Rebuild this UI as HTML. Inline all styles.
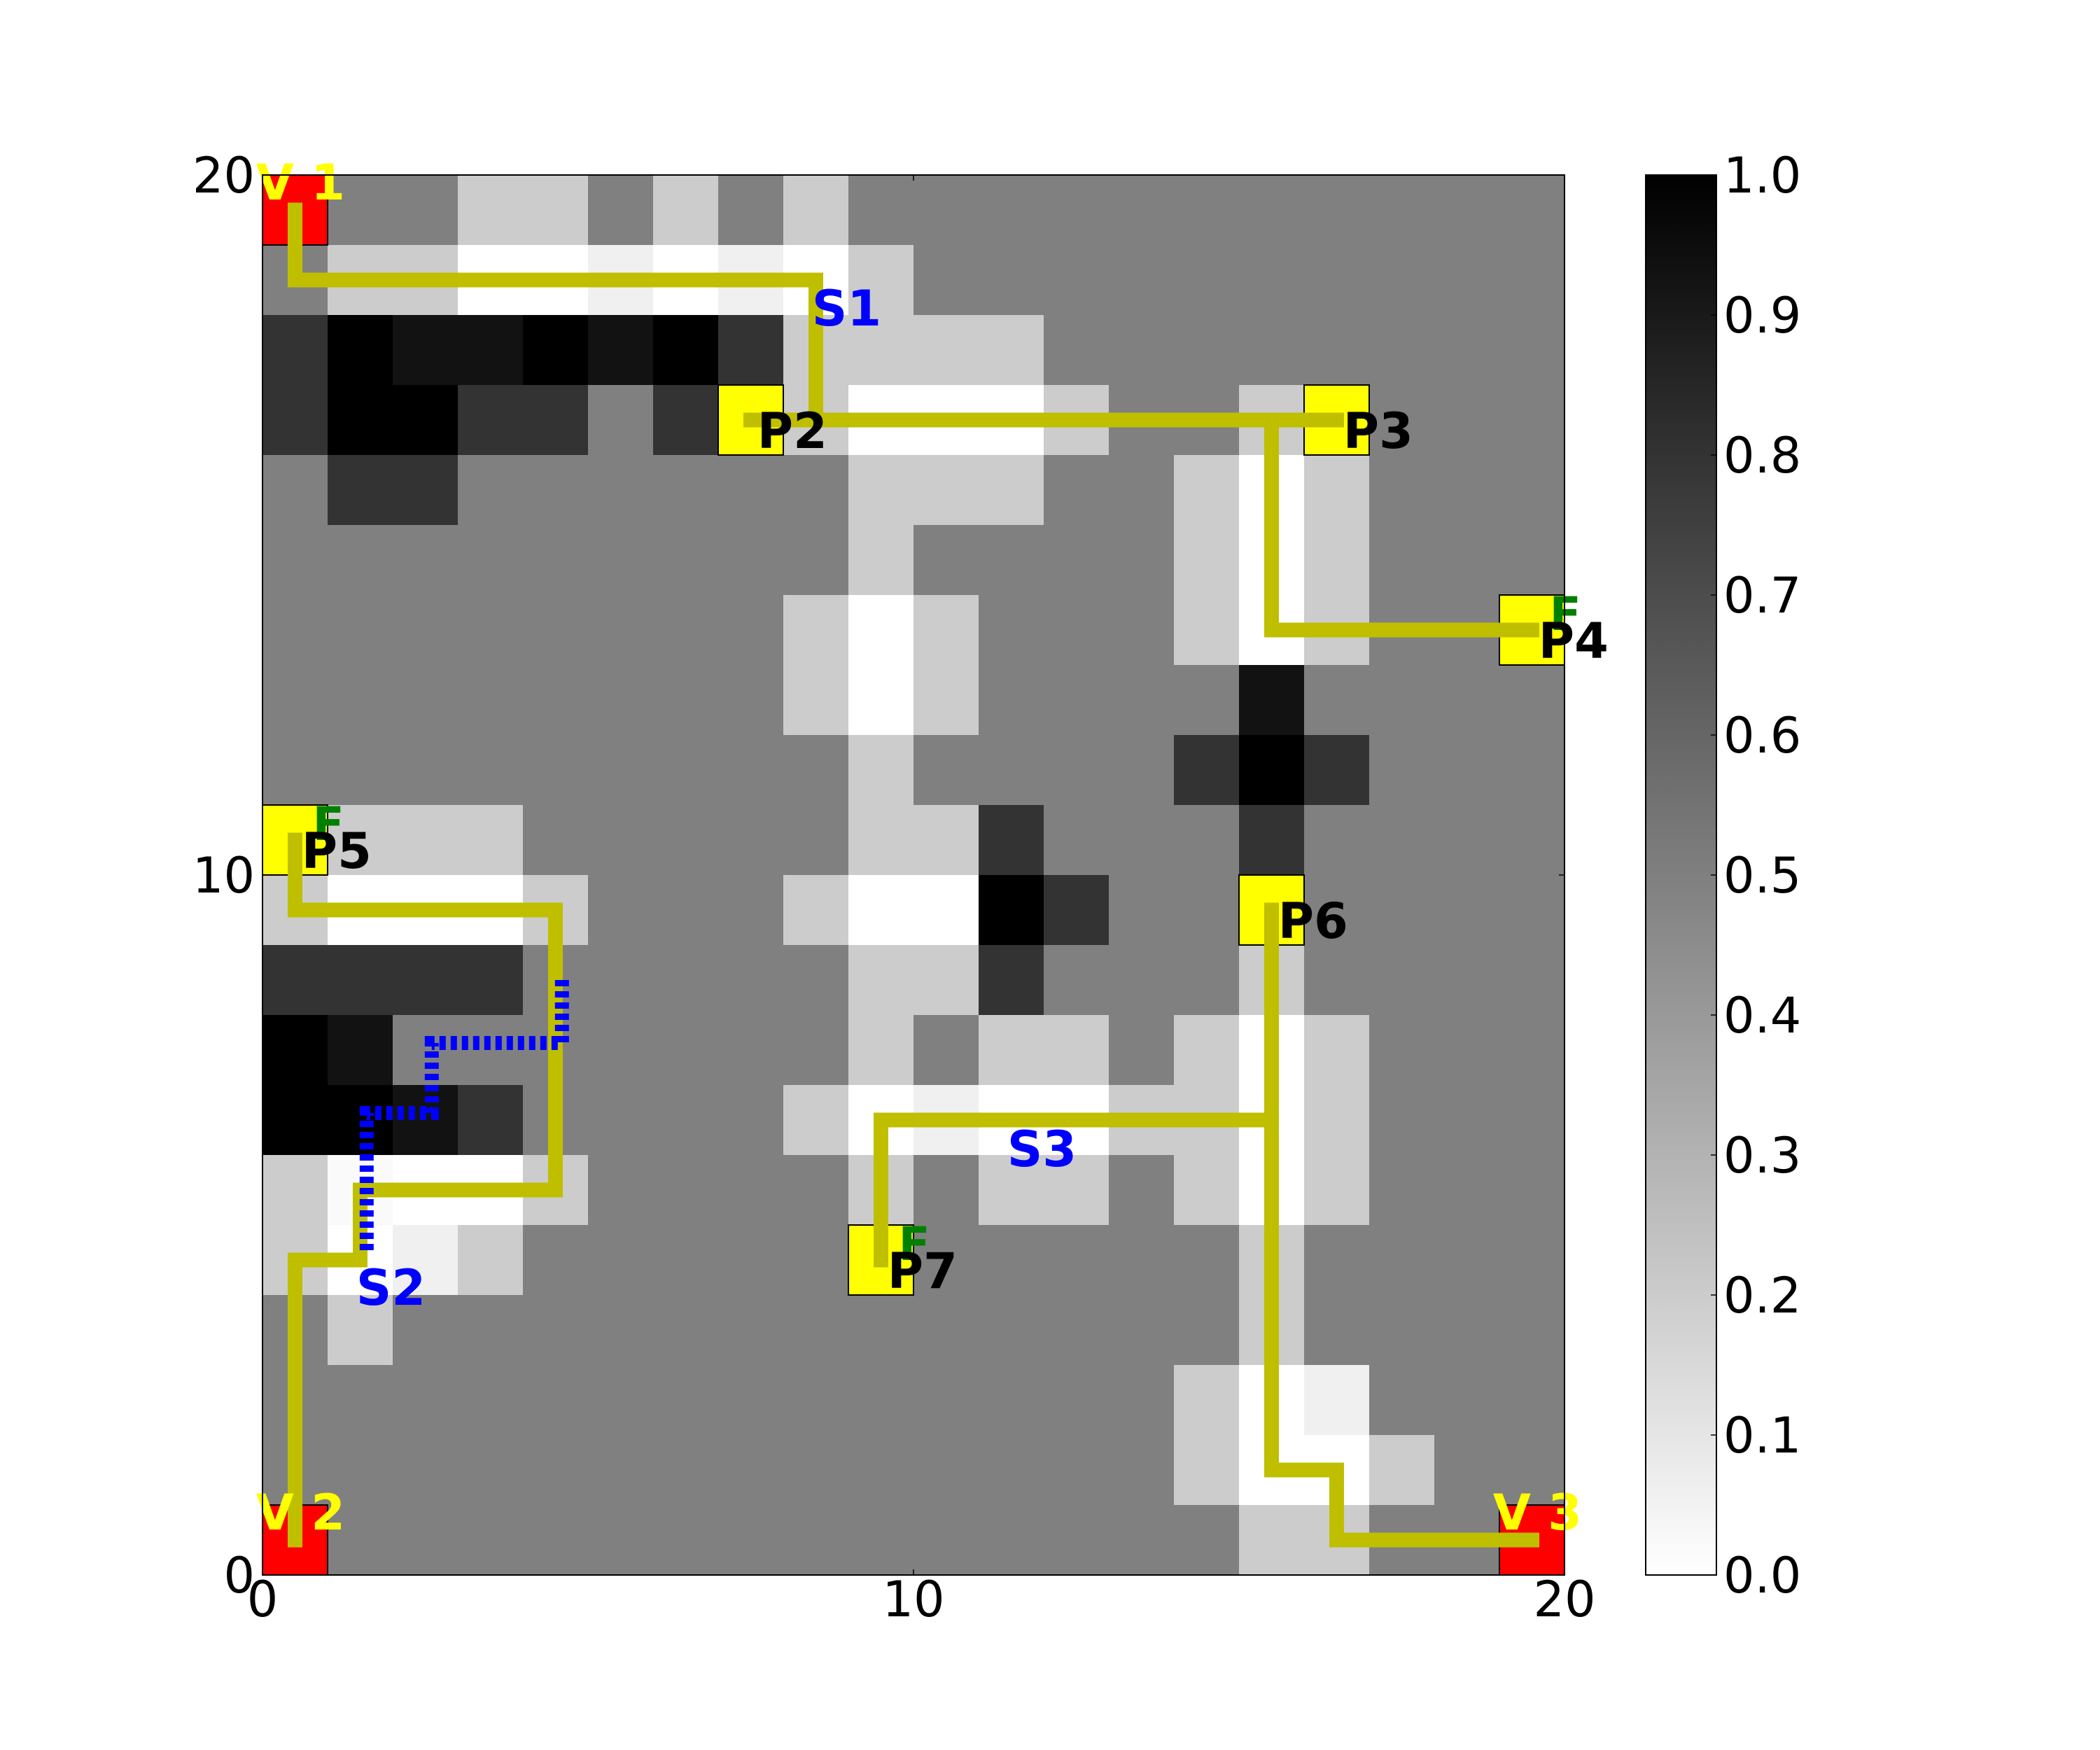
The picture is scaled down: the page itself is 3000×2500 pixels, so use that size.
<!DOCTYPE html>
<html><head><meta charset="utf-8"><style>
html,body{margin:0;padding:0;background:#fff;}
svg{display:block;font-family:"DejaVu Sans","Liberation Sans",sans-serif;}
</style></head><body>
<svg id="chart" width="3000" height="2500" viewBox="0 0 3000 2500" xmlns="http://www.w3.org/2000/svg">
<rect width="3000" height="2500" fill="#fff"/>
<g id="cells"></g>
<g id="paths"></g>
<g id="labels"></g>
<g id="axes"></g>
<g id="cbar"></g>
</svg>
<script>
// grid values, rows from top (y=19) to bottom (y=0); -1 = red vehicle cell, -2 = yellow point cell
const row0=[-1,.5,.5,.2,.2,.5,.2,.5,.2,.5,.5,.5,.5,.5,.5,.5,.5,.5,.5,.5];
const row1=[.5,.2,.2,0,0,.06,0,.06,0,.2,.5,.5,.5,.5,.5,.5,.5,.5,.5,.5];
const row2=[.8,1,.93,.93,1,.93,1,.8,.2,.2,.2,.2,.5,.5,.5,.5,.5,.5,.5,.5];
const row3=[.8,1,1,.8,.8,.5,.8,-2,.2,0,0,0,.2,.5,.5,.2,-2,.5,.5,.5];
const row4=[.5,.8,.8,.5,.5,.5,.5,.5,.5,.2,.2,.2,.5,.5,.2,0,.2,.5,.5,.5];
const row5=[.5,.5,.5,.5,.5,.5,.5,.5,.5,.2,.5,.5,.5,.5,.2,0,.2,.5,.5,.5];
const row6=[.5,.5,.5,.5,.5,.5,.5,.5,.2,0,.2,.5,.5,.5,.2,0,.2,.5,.5,-2];
const row7=[.5,.5,.5,.5,.5,.5,.5,.5,.2,0,.2,.5,.5,.5,.5,.93,.5,.5,.5,.5];
const row8=[.5,.5,.5,.5,.5,.5,.5,.5,.5,.2,.5,.5,.5,.5,.8,1,.8,.5,.5,.5];
const row9=[-2,.2,.2,.2,.5,.5,.5,.5,.5,.2,.2,.8,.5,.5,.5,.8,.5,.5,.5,.5];
const row10=[.2,0,0,0,.2,.5,.5,.5,.2,0,0,1,.8,.5,.5,-2,.5,.5,.5,.5];
const row11=[.8,.8,.8,.8,.5,.5,.5,.5,.5,.2,.2,.8,.5,.5,.5,.2,.5,.5,.5,.5];
const row12=[1,.93,.5,.5,.5,.5,.5,.5,.5,.2,.5,.2,.2,.5,.2,0,.2,.5,.5,.5];
const row13=[1,1,.93,.8,.5,.5,.5,.5,.2,0,.06,0,0,.2,.2,0,.2,.5,.5,.5];
const row14=[.2,.02,0,0,.2,.5,.5,.5,.5,.2,.5,.2,.2,.5,.2,0,.2,.5,.5,.5];
const row15=[.2,0,.06,.2,.5,.5,.5,.5,.5,-2,.5,.5,.5,.5,.5,.2,.5,.5,.5,.5];
const row16=[.5,.2,.5,.5,.5,.5,.5,.5,.5,.5,.5,.5,.5,.5,.5,.2,.5,.5,.5,.5];
const row17=[.5,.5,.5,.5,.5,.5,.5,.5,.5,.5,.5,.5,.5,.5,.2,0,.06,.5,.5,.5];
const row18=[.5,.5,.5,.5,.5,.5,.5,.5,.5,.5,.5,.5,.5,.5,.2,0,0,.2,.5,.5];
const row19=[-1,.5,.5,.5,.5,.5,.5,.5,.5,.5,.5,.5,.5,.5,.5,.2,.2,.5,.5,-1];
const gridRows=[row0,row1,row2,row3,row4,row5,row6,row7,row8,row9,row10,row11,row12,row13,row14,row15,row16,row17,row18,row19];

// paths (data coords)
const pathA=[[0.5,19.5],[0.5,18.5],[8.5,18.5],[8.5,16.5]];
const pathB=[[7.5,16.5],[16.5,16.5]];
const pathC=[[15.5,16.5],[15.5,13.5],[19.5,13.5]];
const pathD=[[0.5,10.5],[0.5,9.5],[4.5,9.5],[4.5,5.5],[1.5,5.5],[1.5,4.5],[0.5,4.5],[0.5,0.5]];
const pathE=[[9.5,4.5],[9.5,6.5],[15.5,6.5]];
const pathF=[[15.5,9.5],[15.5,1.5],[16.5,1.5],[16.5,0.5],[19.5,0.5]];
const bluePath=[[4.6,8.5],[4.6,7.6],[2.6,7.6],[2.6,6.6],[1.6,6.6],[1.6,4.6]];

// labels
const pointNames=["P2","P3","P4","P5","P6","P7"];
const pointCells=[[7,16],[16,16],[19,13],[0,10],[15,9],[9,4]];
const fCells=[[19,13],[0,10],[9,4]];
const vNames=["V 1","V 2","V 3"];
const vCells=[[0,19],[0,0],[19,0]];
const sNames=["S1","S2","S3"];
const sPos=[[8.44,17.85],[1.44,3.86],[11.44,5.84]];
const axisTicks=[0,10,20];
const cbarTicks=[0,0.1,0.2,0.3,0.4,0.5,0.6,0.7,0.8,0.9,1.0];

const X0=375,Y0=2250,CW=93,CH=100;
const px=x=>X0+CW*x, py=y=>Y0-CH*y;
const NS="http://www.w3.org/2000/svg";
function mk(tag,attrs,parent,text){const e=document.createElementNS(NS,tag);for(const k in attrs)e.setAttribute(k,attrs[k]);if(text!==undefined)e.textContent=text;parent.appendChild(e);return e;}
function gray(v){const g=Math.round(255*(1-v));return `rgb(${g},${g},${g})`;}

const cells=document.getElementById('cells');
gridRows.forEach((row,ri)=>{
  const yb=19-ri;
  row.forEach((v,c)=>{
    let fill=v===-1?'#ff0000':v===-2?'#ffff00':gray(v);
    const r=mk('rect',{x:px(c),y:py(yb+1),width:CW+0.5,height:CH+0.5,fill:fill},cells);
    
    
  });
});
// borders for special cells
gridRows.forEach((row,ri)=>{
  const yb=19-ri;
  row.forEach((v,c)=>{
    if(v<0){
      const r=mk('rect',{x:px(c),y:py(yb+1),width:CW,height:CH,fill:'none',stroke:'#000','stroke-width':2},cells);
      
      
    }
  });
});

const paths=document.getElementById('paths');
function poly(pts,color,extra,name){
  const p=mk('polyline',Object.assign({points:pts.map(q=>px(q[0])+','+py(q[1])).join(' '),fill:'none',stroke:color},extra),paths);
  
  
}
[pathA,pathB,pathC,pathD,pathE,pathF].forEach((pa,i)=>poly(pa,'#bfbf00',{'stroke-width':21,'stroke-linecap':'square','stroke-linejoin':'miter'},'route-path-'+(i+1)));
poly(bluePath,'#0000ff',{'stroke-width':20,'stroke-dasharray':'9,7','stroke-linejoin':'miter'},'blue-dotted-path');

const labels=document.getElementById('labels');
function txt(str,x,y,fill,size,name,weight){
  const t=mk('text',{x:x,y:y,fill:fill,'font-size':size,'font-weight':weight||'bold'},labels,str);
  
  
}
fCells.forEach(c=>txt('F',px(c[0]+0.77),py(c[1]+0.5),'#008000',66,'f-label'));
pointNames.forEach((n,i)=>txt(n,px(pointCells[i][0]+0.6),py(pointCells[i][1]+0.1),'#000',70,'point-label-'+n.toLowerCase()));
vNames.forEach((n,i)=>txt(n,px(vCells[i][0]-0.1),py(vCells[i][1]+0.65),'#ffff00',70,'vehicle-label'));
sNames.forEach((n,i)=>txt(n,px(sPos[i][0]),py(sPos[i][1]),'#0000ff',70,'station-label-'+n.toLowerCase()));

const axes=document.getElementById('axes');
const frame=mk('rect',{x:X0,y:py(20),width:CW*20,height:CH*20,fill:'none',stroke:'#000','stroke-width':2},axes);


axisTicks.forEach(t=>{
  const a=mk('line',{x1:px(t),x2:px(t),y1:Y0,y2:Y0-8,stroke:'#000','stroke-width':1.5},axes);
  
  
  const b=mk('line',{x1:px(t),x2:px(t),y1:py(20),y2:py(20)+8,stroke:'#000','stroke-width':1.5},axes);
  
  
  const c=mk('line',{x1:X0,x2:X0+8,y1:py(t),y2:py(t),stroke:'#000','stroke-width':1.5},axes);
  
  
  const d=mk('line',{x1:px(20),x2:px(20)-8,y1:py(t),y2:py(t),stroke:'#000','stroke-width':1.5},axes);
  
  
  const xl=mk('text',{x:px(t),y:Y0+59,'font-size':70,'text-anchor':'middle',fill:'#000'},axes,String(t));
  
  
  const yl=mk('text',{x:X0-11,y:py(t)+25,'font-size':70,'text-anchor':'end',fill:'#000'},axes,String(t));
  
  
});

const cbar=document.getElementById('cbar');
const defs=mk('defs',{},cbar);
const lg=mk('linearGradient',{id:'cg',x1:0,y1:1,x2:0,y2:0},defs);
mk('stop',{offset:0,'stop-color':'#fff'},lg);
mk('stop',{offset:1,'stop-color':'#000'},lg);
const CB0=2351,CBW=101;
const cb=mk('rect',{x:CB0,y:250,width:CBW,height:2000,fill:'url(#cg)',stroke:'#000','stroke-width':2},cbar);


cbarTicks.forEach(v=>{
  const y=2250-2000*v;
  const tk=mk('line',{x1:CB0+CBW,x2:CB0+CBW-8,y1:y,y2:y,stroke:'#000','stroke-width':1.5},cbar);
  
  
  const tl=mk('text',{x:2462,y:y+25,'font-size':70,fill:'#000'},cbar,v.toFixed(1));
  
  
});
</script>
</body></html>
